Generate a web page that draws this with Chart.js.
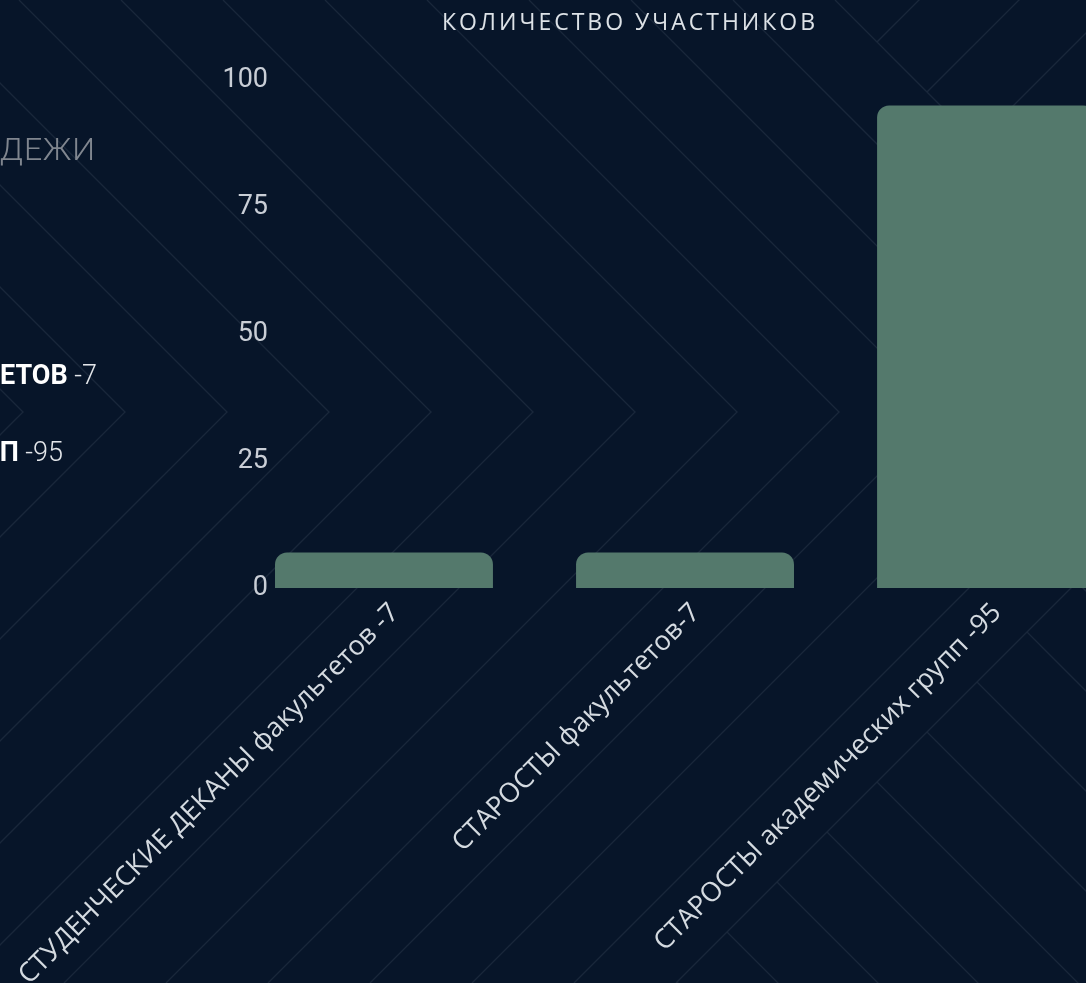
<!DOCTYPE html>
<html>
<head>
    <meta charset="UTF-8">
    <title>Количество участников</title>
    <script src="https://cdn.jsdelivr.net/npm/chart.js"></script>
    <style>
        html, body {
            margin: 0;
            padding: 0;
            background: #071529;
            overflow: hidden;
        }
        body {
            width: 1086px;
            height: 983px;
            position: relative;
            font-family: Roboto, sans-serif;
        }
        #graph {
            position: absolute;
            left: 0;
            top: 0;
        }
        .side {
            position: absolute;
            white-space: nowrap;
            line-height: 1;
        }
        #heading {
            right: 990px;
            top: 133px;
            font-size: 32px;
            font-weight: 300;
            color: #80868f;
            letter-spacing: 1px;
        }
        #row1 { right: 989px; top: 362px; }
        #row2 { right: 1023px; top: 439px; }
        .side b { font-weight: 700; color: #ffffff; font-size: 27px; }
        .side span { font-weight: 300; color: #e3e6ea; font-size: 27px; }
        #title {
            position: absolute;
            left: 630px;
            top: 10px;
            transform: translateX(-50%);
            font-family: "Open Sans", sans-serif;
            font-size: 23px;
            line-height: 23px;
            letter-spacing: 3px;
            color: #dde2e7;
            white-space: nowrap;
        }
    </style>
</head>
<body>
    <canvas id="graph" width="1086" height="983"></canvas>
    <div class="side" id="heading">ДЕЖИ</div>
    <div class="side" id="row1"><b>ЕТОВ</b><span> -7</span></div>
    <div class="side" id="row2"><b>П</b><span> -95</span></div>
    <div id="title">КОЛИЧЕСТВО УЧАСТНИКОВ</div>

    <script>
        // данные
        const categories = [
            'СТУДЕНЧЕСКИЕ ДЕКАНЫ факультетов -7',
            'СТАРОСТЫ факультетов-7',
            'СТАРОСТЫ академических групп -95'
        ];
        const counts = [7, 7, 95];
        const yTicks = [0, 25, 50, 75, 100];

        // фон с шевронами
        const backdrop = {
            id: 'backdrop',
            beforeDraw(chart) {
                const { ctx, width, height } = chart;
                ctx.save();
                ctx.fillStyle = '#071529';
                ctx.fillRect(0, 0, width, height);
                ctx.strokeStyle = 'rgba(150, 162, 180, 0.13)';
                ctx.lineWidth = 1.4;
                ctx.beginPath();
                const cy = 412;
                for (let k = 0; k < 13; k++) {
                    const vx = 23 + 102 * k;
                    ctx.moveTo(vx - cy, 0);
                    ctx.lineTo(vx, cy);
                    ctx.lineTo(vx - (height - cy), height);
                }
                const outer = 23 + 102 * 12;
                for (let t = 170; t < height - cy; t += 50) {
                    ctx.moveTo(outer - t, cy + t);
                    ctx.lineTo(outer - t + 600, cy + t + 600);
                }
                for (let t = 170; t <= cy; t += 50) {
                    ctx.moveTo(outer - t, cy - t);
                    ctx.lineTo(outer - t + 600, cy - t - 600);
                }
                ctx.stroke();
                ctx.restore();
            }
        };

        const points = counts.map((v, i) => ({ x: i, y: v }));

        const ctx = document.getElementById('graph').getContext('2d');
        const chart = new Chart(ctx, {
            type: 'bar',
            data: {
                datasets: [{
                    data: points,
                    backgroundColor: '#54796c',
                    borderRadius: 12,
                    borderSkipped: 'start',
                    categoryPercentage: 0.8,
                    barPercentage: 0.905
                }]
            },
            plugins: [backdrop],
            options: {
                responsive: false,
                animation: false,
                layout: { padding: { top: 80, left: 0, right: 0, bottom: 0 } },
                plugins: {
                    legend: { display: false },
                    tooltip: { enabled: false }
                },
                scales: {
                    x: {
                        type: 'linear',
                        bounds: 'data',
                        offset: false,
                        min: -0.372,
                        max: 2.332,
                        grid: { display: false, offset: false },
                        border: { display: false },
                        afterBuildTicks(scale) {
                            scale.ticks = categories.map((c, i) => ({ value: i }));
                        },
                        afterFit(scale) {
                            scale.height = 395;
                            scale.paddingLeft = 0;
                            scale.paddingRight = 0;
                        },
                        ticks: {
                            autoSkip: false,
                            minRotation: 45,
                            maxRotation: 45,
                            padding: 1,
                            labelOffset: 11,
                            color: '#d4dae0',
                            font: { family: 'Open Sans', size: 27 },
                            callback: (value) => categories[Math.round(value)]
                        }
                    },
                    y: {
                        min: yTicks[0],
                        max: yTicks[yTicks.length - 1],
                        grid: { display: false, drawTicks: false },
                        border: { display: false },
                        afterFit(scale) { scale.width = 272; },
                        ticks: {
                            stepSize: yTicks[1] - yTicks[0],
                            padding: 4,
                            color: '#c9ced6',
                            font: { family: 'Roboto', size: 27 }
                        }
                    }
                }
            }
        });
    </script>
</body>
</html>
